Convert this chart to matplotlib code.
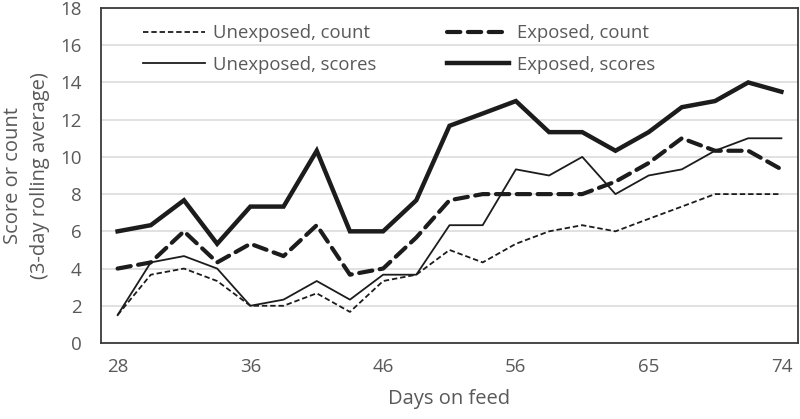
import numpy as np
import matplotlib.pyplot as plt

plt.rcParams['font.family'] = ['Open Sans', 'DejaVu Sans']

# category axis: 21 rolling-average points, only every 4th day labelled
day_labels = ['28', '', '', '', '36', '', '', '', '46', '', '', '',
              '56', '', '', '', '65', '', '', '', '74']

unexposed_count = [1.5, 3.67, 4.0, 3.33, 2.0, 2.0, 2.67, 1.67, 3.33, 3.67, 5.0,
                   4.33, 5.33, 6.0, 6.33, 6.0, 6.67, 7.33, 8.0, 8.0, 8.0]
exposed_count = [4.0, 4.33, 6.0, 4.33, 5.33, 4.67, 6.33, 3.67, 4.0, 5.67, 7.67,
                 8.0, 8.0, 8.0, 8.0, 8.67, 9.67, 11.0, 10.33, 10.33, 9.33]
unexposed_scores = [1.5, 4.33, 4.67, 4.0, 2.0, 2.33, 3.33, 2.33, 3.67, 3.67, 6.33,
                    6.33, 9.33, 9.0, 10.0, 8.0, 9.0, 9.33, 10.33, 11.0, 11.0]
exposed_scores = [6.0, 6.33, 7.67, 5.33, 7.33, 7.33, 10.33, 6.0, 6.0, 7.67, 11.67,
                  12.33, 13.0, 11.33, 11.33, 10.33, 11.33, 12.67, 13.0, 14.0, 13.5]

txt = '#595959'
ink = '#1c1c1c'

fig = plt.figure(figsize=(8, 4.19), dpi=100)
ax = fig.add_axes([101/800, 1 - 343/419, 697/800, 335/419])

x = np.arange(len(day_labels))
ax.plot(x, unexposed_count, color=ink, lw=1.3, linestyle=(0, (3, 1.6)),
        label='Unexposed, count')
ax.plot(x, unexposed_scores, color=ink, lw=1.3, label='Unexposed, scores')
ax.plot(x, exposed_count, color=ink, lw=3.0, linestyle=(0, (3.2, 1.8)),
        dash_capstyle='round', label='Exposed, count')
ax.plot(x, exposed_scores, color=ink, lw=3.2, solid_joinstyle='miter',
        label='Exposed, scores')

ax.set_xlim(-0.5, len(day_labels) - 0.5)
ax.set_ylim(0, 18)
ax.set_yticks(np.arange(0, 19, 2))
ax.set_xticks(x)
ax.set_xticklabels(day_labels)
ax.tick_params(length=0, labelsize=13.5, colors=txt)
ax.tick_params(axis='x', pad=11)
ax.tick_params(axis='y', pad=14)
ax.grid(axis='y', color='#d9d9d9', lw=1.1)
ax.set_axisbelow(True)
for s in ax.spines.values():
    s.set_color('#3a3a3a')
    s.set_linewidth(1.3)

ax.set_xlabel('Days on feed', fontsize=14.5, color=txt, labelpad=9)
ax.set_ylabel('Score or count\n(3-day rolling average)', fontsize=14.5,
              color=txt, labelpad=7, linespacing=1.5)

ax.legend(ncol=2, loc='upper left', bbox_to_anchor=(0.042, 0.99), frameon=False,
          fontsize=13.3, labelcolor=txt, handlelength=3.35, handletextpad=0.45,
          columnspacing=3.8, labelspacing=0.72, borderpad=0.2)

fig.savefig('out.png', dpi=100)
